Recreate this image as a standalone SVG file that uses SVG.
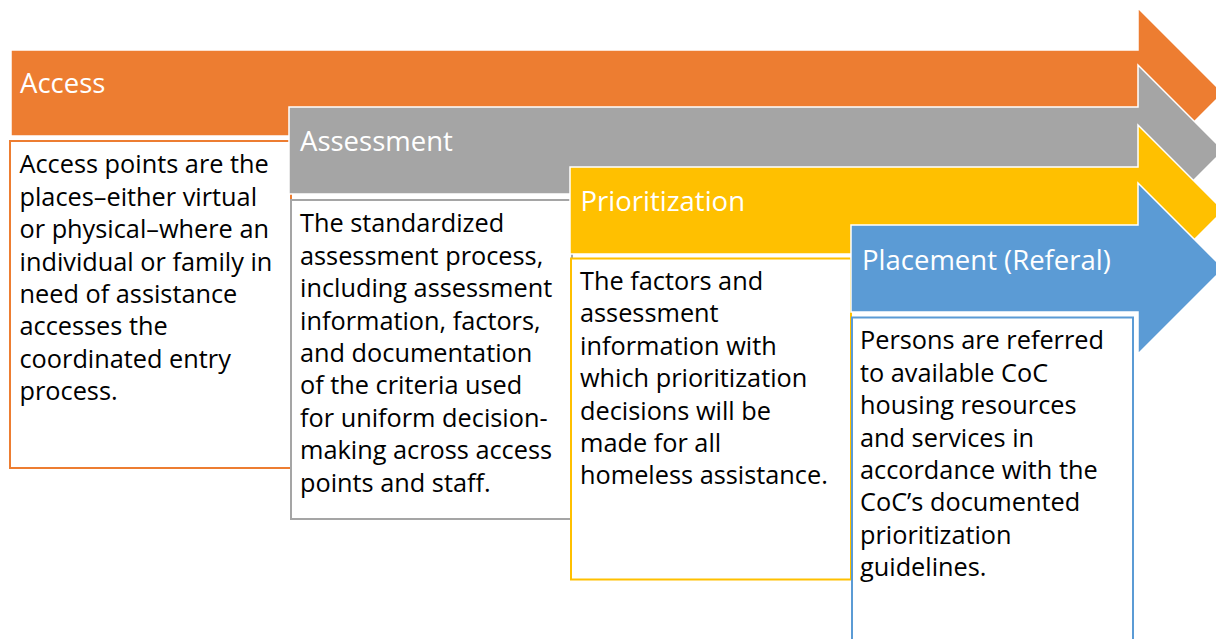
<svg xmlns="http://www.w3.org/2000/svg" width="1216" height="639" viewBox="0 0 1216 639">
  <style>
    .arrow { stroke: #FFFFFF; stroke-width: 1.5; stroke-linejoin: miter; }
    .box { fill: #FFFFFF; stroke-width: 2; }
    .head { font-family: "Open Sans", "Noto Sans", sans-serif; font-size: 27.5px; fill: #FFFFFF; }
    .body { font-family: "Open Sans", "Noto Sans", sans-serif; font-size: 25.3px; fill: #000000; }
    .orange { fill: #ED7D31; }
    .gray { fill: #A5A5A5; }
    .yellow { fill: #FFC000; }
    .blue { fill: #5B9BD5; }
  </style>
  <rect width="1216" height="639" fill="#FFFFFF"/>

  <!-- Stage 1: Access -->
  <g id="access">
    <path class="arrow orange" d="M11,50 H1138 V8 L1223,93 L1138,178 V136 H11 Z"/>
    <rect class="box" x="10" y="141" width="281" height="327" stroke="#ED7D31"/>
    <text class="head" x="20" y="93">Access</text>
    <text class="body" x="19.5" y="173.3">
      <tspan x="19.5" y="173.3">Access points are the</tspan>
      <tspan x="19.5" y="205.7">places–either virtual</tspan>
      <tspan x="19.5" y="238.1">or physical–where an</tspan>
      <tspan x="19.5" y="270.5">individual or family in</tspan>
      <tspan x="19.5" y="302.9">need of assistance</tspan>
      <tspan x="19.5" y="335.3">accesses the</tspan>
      <tspan x="19.5" y="367.7">coordinated entry</tspan>
      <tspan x="19.5" y="400.1">process.</tspan>
    </text>
  </g>

  <!-- Stage 2: Assessment -->
  <g id="assessment">
    <path class="arrow gray" d="M289,107 H1138 V65 L1223.5,150.5 L1138,236 V194 H289 Z"/>
    <rect class="box" x="291" y="200" width="281" height="319" stroke="#A5A5A5"/>
    <text class="head" x="300" y="151">Assessment</text>
    <text class="body" x="300" y="232.3">
      <tspan x="300" y="232.3">The standardized</tspan>
      <tspan x="300" y="264.7">assessment process,</tspan>
      <tspan x="300" y="297.1">including assessment</tspan>
      <tspan x="300" y="329.5">information, factors,</tspan>
      <tspan x="300" y="361.9">and documentation</tspan>
      <tspan x="300" y="394.3">of the criteria used</tspan>
      <tspan x="300" y="426.7">for uniform decision-</tspan>
      <tspan x="300" y="459.1">making across access</tspan>
      <tspan x="300" y="491.5">points and staff.</tspan>
    </text>
  </g>

  <!-- Stage 3: Prioritization -->
  <g id="prioritization">
    <path class="arrow yellow" d="M570,167 H1138 V125 L1223.5,210.5 L1138,296 V254 H570 Z"/>
    <rect class="box" x="571" y="258.5" width="280" height="321" stroke="#FFC000"/>
    <text class="head" x="580.5" y="211">Prioritization</text>
    <text class="body" x="580" y="290">
      <tspan x="580" y="290">The factors and</tspan>
      <tspan x="580" y="322.4">assessment</tspan>
      <tspan x="580" y="354.8">information with</tspan>
      <tspan x="580" y="387.2">which prioritization</tspan>
      <tspan x="580" y="419.6">decisions will be</tspan>
      <tspan x="580" y="452">made for all</tspan>
      <tspan x="580" y="484.4">homeless assistance.</tspan>
    </text>
  </g>

  <!-- Stage 4: Placement -->
  <g id="placement">
    <path class="arrow blue" d="M851,225 H1138 V183 L1223.5,268.5 L1138,354 V312 H851 Z"/>
    <rect class="box" x="852" y="317.5" width="281" height="330" stroke="#5B9BD5"/>
    <text class="head" x="862" y="270">Placement (Referal)</text>
    <text class="body" x="860" y="349.3">
      <tspan x="860" y="349.3">Persons are referred</tspan>
      <tspan x="860" y="381.7">to available CoC</tspan>
      <tspan x="860" y="414.1">housing resources</tspan>
      <tspan x="860" y="446.5">and services in</tspan>
      <tspan x="860" y="478.9">accordance with the</tspan>
      <tspan x="860" y="511.3">CoC’s documented</tspan>
      <tspan x="860" y="543.7">prioritization</tspan>
      <tspan x="860" y="576.1">guidelines.</tspan>
    </text>
  </g>
</svg>
